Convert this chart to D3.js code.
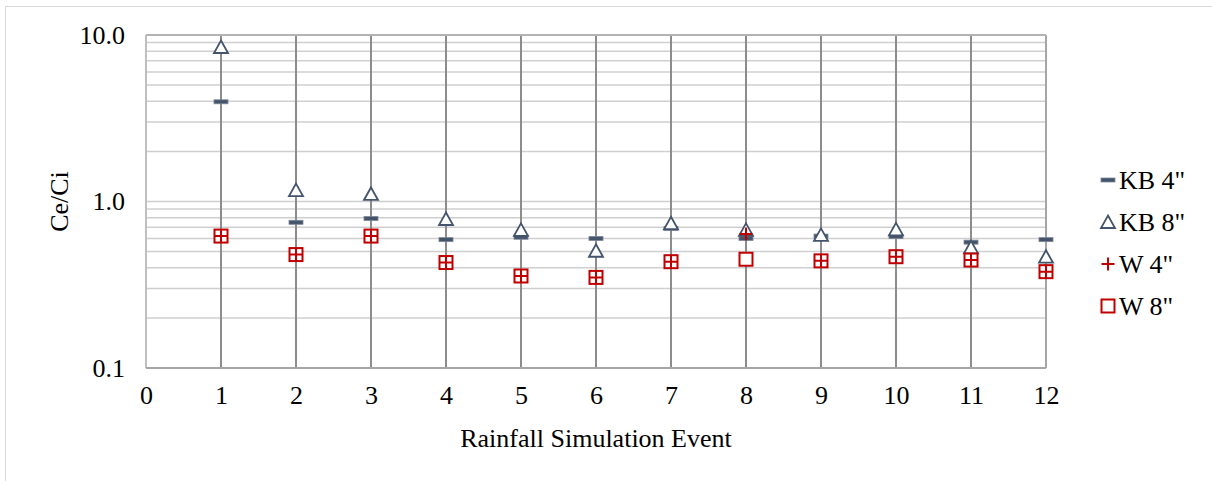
<!DOCTYPE html>
<html>
<head>
<meta charset="utf-8">
<script src="https://cdn.jsdelivr.net/npm/d3@7"></script>
<style>
  body { margin: 0; background: #fff; }
  text { font-family: "Liberation Serif", "Times New Roman", serif; fill: #000; }
</style>
</head>
<body>
<svg id="chart" width="1212" height="481"></svg>
<script>
// data
const events = [1, 2, 3, 4, 5, 6, 7, 8, 9, 10, 11, 12];
const kb4 = [3.97, 0.75, 0.79, 0.59, 0.61, 0.60, 0.69, 0.60, 0.62, 0.615, 0.57, 0.59];
const kb8 = [8.47, 1.17, 1.11, 0.785, 0.675, 0.506, 0.74, 0.675, 0.63, 0.68, 0.53, 0.466];
const w4 = [0.62, 0.48, 0.62, 0.43, 0.357, 0.35, 0.435, 0.638, 0.44, 0.466, 0.445, 0.379];
const w8 = [0.62, 0.48, 0.62, 0.43, 0.357, 0.35, 0.435, 0.45, 0.44, 0.466, 0.445, 0.379];
const xTicks = [0, 1, 2, 3, 4, 5, 6, 7, 8, 9, 10, 11, 12];
const yTicks = [0.1, 1, 10];
const seriesNames = ['KB 4"', 'KB 8"', 'W 4"', 'W 8"'];

const slate = "#44546A";
const red = "#C00000";
const fs = "26px";

const svg = d3.select("#chart");

// outer chart frame
svg.append("rect")
    .attr("x", 5.5).attr("y", 6.5)
    .attr("width", 1220).attr("height", 490)
    .attr("fill", "#fff").attr("stroke", "#d9d9d9").attr("stroke-width", 1);

const pLeft = 146, pRight = 1046, pTop = 35, pBottom = 368;

let x = d3.scaleLinear().domain([0, 12]).range([pLeft, pRight]);
let y = d3.scaleLog().domain([0.1, 10]).range([pBottom, pTop]);

// minor horizontal gridlines
let minor = [];
for (let d = 0.1; d < 10; d *= 10) {
    for (let k = 1; k <= 10; k++) minor.push(+(d * k).toPrecision(3));
}
minor = Array.from(new Set(minor));

svg.append("g").selectAll("line")
    .data(minor)
    .join("line")
    .attr("x1", pLeft).attr("x2", pRight)
    .attr("y1", d => y(d)).attr("y2", d => y(d))
    .attr("stroke", "#cfcfcf").attr("stroke-width", 1.5);

// vertical lines at each event
svg.append("g").selectAll("line")
    .data(events.slice(0, 11))
    .join("line")
    .attr("x1", d => x(d)).attr("x2", d => x(d))
    .attr("y1", pTop).attr("y2", pBottom)
    .attr("stroke", "#8c8c8c").attr("stroke-width", 2);

// plot border
svg.append("line").attr("x1", pLeft).attr("x2", pLeft).attr("y1", pTop).attr("y2", pBottom)
    .attr("stroke", "#bfbfbf").attr("stroke-width", 2);
svg.append("line").attr("x1", pRight).attr("x2", pRight).attr("y1", pTop).attr("y2", pBottom)
    .attr("stroke", "#a6a6a6").attr("stroke-width", 2);
svg.append("line").attr("x1", pLeft).attr("x2", pRight).attr("y1", pBottom).attr("y2", pBottom)
    .attr("stroke", "#a6a6a6").attr("stroke-width", 2);
svg.append("line").attr("x1", pLeft).attr("x2", pRight).attr("y1", pTop).attr("y2", pTop)
    .attr("stroke", "#b3b3b3").attr("stroke-width", 2);

// axes
const yAxis = d3.axisLeft(y).tickValues(yTicks).tickFormat(d3.format(".1f")).tickSize(0).tickPadding(21);
svg.append("g").attr("transform", `translate(${pLeft},0)`).call(yAxis)
    .call(g => g.select(".domain").remove())
    .selectAll("text").style("font-size", fs)
    .style("font-family", "'Liberation Serif', serif");

const xAxis = d3.axisBottom(x).tickValues(xTicks).tickFormat(d3.format("d")).tickSize(0).tickPadding(18);
svg.append("g").attr("transform", `translate(0,${pBottom})`).call(xAxis)
    .call(g => g.select(".domain").remove())
    .selectAll("text").style("font-size", fs)
    .style("font-family", "'Liberation Serif', serif");

svg.append("text")
    .attr("x", (pLeft + pRight) / 2).attr("y", 447)
    .attr("text-anchor", "middle").style("font-size", fs)
    .text("Rainfall Simulation Event");

svg.append("text")
    .attr("transform", `translate(68,${y(1)}) rotate(-90)`)
    .attr("text-anchor", "middle").style("font-size", fs)
    .text("Ce/Ci");

// marker drawers
function drawDash(g, cx, cy) {
    g.append("rect").attr("x", cx - 7).attr("y", cy - 2).attr("width", 14).attr("height", 4)
        .attr("fill", slate).attr("stroke", "#7d8797").attr("stroke-width", 0.8);
}
function drawTri(g, cx, cy) {
    g.append("path").attr("d", "M0,-6.5L7,6L-7,6Z")
        .attr("transform", `translate(${cx},${cy})`)
        .attr("fill", "#fff").attr("stroke", slate).attr("stroke-width", 1.8);
}
function drawPlus(g, cx, cy) {
    g.append("path").attr("d", `M${cx - 6.5},${cy}H${cx + 6.5}M${cx},${cy - 6.5}V${cy + 6.5}`)
        .attr("stroke", red).attr("stroke-width", 2);
}
function drawSquare(g, cx, cy) {
    g.append("rect").attr("x", cx - 6.5).attr("y", cy - 6.5).attr("width", 13).attr("height", 13)
        .attr("fill", "#fff").attr("stroke", red).attr("stroke-width", 2);
}

const marks = svg.append("g");
events.forEach((e, i) => drawDash(marks, x(e), y(kb4[i])));
events.forEach((e, i) => drawTri(marks, x(e), y(kb8[i])));
events.forEach((e, i) => drawSquare(marks, x(e), y(w8[i])));
events.forEach((e, i) => drawPlus(marks, x(e), y(w4[i])));

// legend
const drawers = [drawDash, drawTri, drawPlus, drawSquare];
const legend = svg.append("g");
seriesNames.forEach((name, i) => {
    const ly = 180 + i * 42;
    drawers[i](legend, 1108, ly);
    legend.append("text").attr("x", 1119).attr("y", ly).attr("dy", "0.35em")
        .style("font-size", fs).text(name);
});
</script>
</body>
</html>
